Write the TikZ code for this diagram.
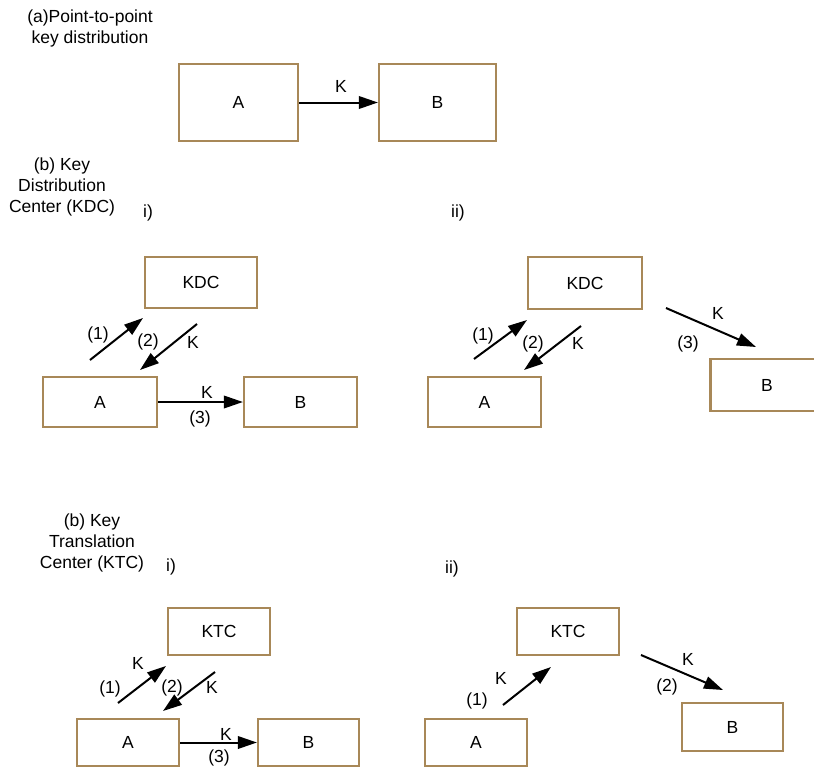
\documentclass[tikz,border=0pt]{standalone}
\usepackage{fontspec}
\setmainfont{Liberation Sans}
\usetikzlibrary{arrows.meta}
\definecolor{boxbrown}{RGB}{168,136,88}
\begin{document}
\begin{tikzpicture}[x=1pt,y=-1pt,
  font=\fontsize{17.5}{21}\selectfont,
  box/.style={draw=boxbrown, line width=2.2pt, inner sep=0pt},
  arr/.style={line width=2pt, -{Triangle[length=19pt,width=12.5pt]}},
  lbl/.style={inner sep=0pt, anchor=center},
  title/.style={inner sep=0pt, align=center, anchor=center}]
\useasboundingbox (0,0) rectangle (814,766);
\clip (0,0) rectangle (814,766);
\fill[white] (0,0) rectangle (814,766);

% (a)
\node[title] (ta) at (90,28) {(a)Point-to-point\\key distribution};
\node[box, minimum width=119pt, minimum height=77pt] (aA) at (238.5,102.5) {A};
\node[box, minimum width=117pt, minimum height=77pt] (aB) at (437.5,102.5) {B};
\draw[arr] (aA.east) -- (aB.west);
\node[lbl] (aK) at (341,86) {K};

% (b) KDC
\node[title] (tb) at (62,187) {(b) Key\\Distribution\\Center (KDC)};
\node[lbl] (bi) at (148,213) {i)};
\node[lbl] (bii) at (458,213) {ii)};

% KDC i
\node[box, minimum width=112pt, minimum height=51pt] (k1) at (201,282.5) {KDC};
\node[box, minimum width=114pt, minimum height=50pt] (k1A) at (100,402) {A};
\node[box, minimum width=113pt, minimum height=50pt] (k1B) at (300.5,402) {B};
\coordinate (k1s1) at (90,360);
\coordinate (k1e1) at (143,318);
\coordinate (k1s2) at (197,324);
\coordinate (k1e2) at (140,370);
\draw[arr] (k1s1) -- (k1e1);
\draw[arr] (k1s2) -- (k1e2);
\draw[arr] (k1A.east) -- (k1B.west);
\node[lbl] (k1l1) at (98,335) {(1)};
\node[lbl] (k1l2) at (148,342) {(2)};
\node[lbl] (k1k2) at (193,342) {K};
\node[lbl] (k1k3) at (207,392) {K};
\node[lbl] (k1l3) at (200,419) {(3)};

% KDC ii
\node[box, minimum width=114pt, minimum height=52pt] (k2) at (585,283) {KDC};
\node[box, minimum width=113pt, minimum height=50pt] (k2A) at (484.5,402) {A};
\node[box, minimum width=113pt, minimum height=52pt] (k2B) at (767,385) {B};
\coordinate (k2s1) at (474,359);
\coordinate (k2e1) at (527,320);
\coordinate (k2s2) at (581,326);
\coordinate (k2e2) at (524,370);
\coordinate (k2s3) at (666,308);
\coordinate (k2e3) at (756,347);
\draw[arr] (k2s1) -- (k2e1);
\draw[arr] (k2s2) -- (k2e2);
\draw[arr] (k2s3) -- (k2e3);
\node[lbl] (k2l1) at (483,336) {(1)};
\node[lbl] (k2l2) at (533,344) {(2)};
\node[lbl] (k2k2) at (578,343) {K};
\node[lbl] (k2k3) at (718,313) {K};
\node[lbl] (k2l3) at (688,344) {(3)};

% (b) KTC
\node[title] (tc) at (92,543) {(b) Key\\Translation\\Center (KTC)};
\node[lbl] (ci) at (171,567) {i)};
\node[lbl] (cii) at (452,569) {ii)};

% KTC i
\node[box, minimum width=102pt, minimum height=47pt] (t1) at (219,631.5) {KTC};
\node[box, minimum width=102pt, minimum height=47pt] (t1A) at (128,742.5) {A};
\node[box, minimum width=101pt, minimum height=47pt] (t1B) at (308.5,742.5) {B};
\coordinate (t1s1) at (118,703);
\coordinate (t1e1) at (166,666);
\coordinate (t1s2) at (215,672);
\coordinate (t1e2) at (163,711);
\draw[arr] (t1s1) -- (t1e1);
\draw[arr] (t1s2) -- (t1e2);
\draw[arr] (t1A.east) -- (t1B.west);
\node[lbl] (t1k1) at (138,663) {K};
\node[lbl] (t1l1) at (110,689) {(1)};
\node[lbl] (t1l2) at (172,688) {(2)};
\node[lbl] (t1k2) at (212,687) {K};
\node[lbl] (t1k3) at (226,734) {K};
\node[lbl] (t1l3) at (219,758) {(3)};

% KTC ii
\node[box, minimum width=102pt, minimum height=47pt] (t2) at (568,631.5) {KTC};
\node[box, minimum width=102pt, minimum height=47pt] (t2A) at (476,742.5) {A};
\node[box, minimum width=101pt, minimum height=48pt] (t2B) at (732.5,727) {B};
\coordinate (t2s1) at (503,705);
\coordinate (t2e1) at (551,667);
\coordinate (t2s2) at (641,655);
\coordinate (t2e2) at (723,690);
\draw[arr] (t2s1) -- (t2e1);
\draw[arr] (t2s2) -- (t2e2);
\node[lbl] (t2k1) at (501,678) {K};
\node[lbl] (t2l1) at (477,701) {(1)};
\node[lbl] (t2k2) at (688,659) {K};
\node[lbl] (t2l2) at (667,687) {(2)};
\end{tikzpicture}
\end{document}
